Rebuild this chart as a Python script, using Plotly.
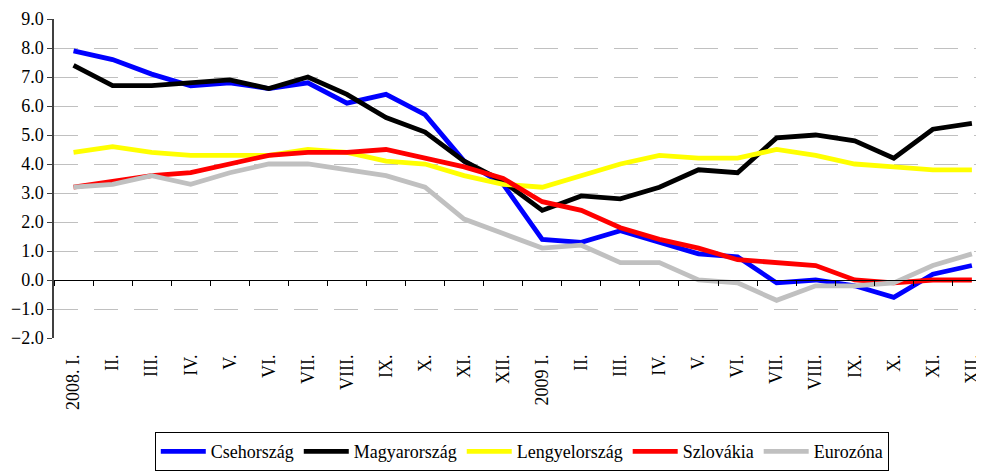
import plotly.graph_objects as go

months = ["2008. I.", "II.", "III.", "IV.", "V.", "VI.", "VII.", "VIII.", "IX.", "X.", "XI.", "XII.",
          "2009 I.", "II.", "III.", "IV.", "V.", "VI.", "VII.", "VIII.", "IX.", "X.", "XI.", "XII."]

cseh = [7.9, 7.6, 7.1, 6.7, 6.8, 6.6, 6.8, 6.1, 6.4, 5.7, 4.1, 3.3,
        1.4, 1.3, 1.7, 1.3, 0.9, 0.8, -0.1, 0.0, -0.2, -0.6, 0.2, 0.5]
magyar = [7.4, 6.7, 6.7, 6.8, 6.9, 6.6, 7.0, 6.4, 5.6, 5.1, 4.1, 3.4,
          2.4, 2.9, 2.8, 3.2, 3.8, 3.7, 4.9, 5.0, 4.8, 4.2, 5.2, 5.4]
lengyel = [4.4, 4.6, 4.4, 4.3, 4.3, 4.3, 4.5, 4.4, 4.1, 4.0, 3.6, 3.3,
           3.2, 3.6, 4.0, 4.3, 4.2, 4.2, 4.5, 4.3, 4.0, 3.9, 3.8, 3.8]
szlovak = [3.2, 3.4, 3.6, 3.7, 4.0, 4.3, 4.4, 4.4, 4.5, 4.2, 3.9, 3.5,
           2.7, 2.4, 1.8, 1.4, 1.1, 0.7, 0.6, 0.5, 0.0, -0.1, 0.0, 0.0]
euro = [3.2, 3.3, 3.6, 3.3, 3.7, 4.0, 4.0, 3.8, 3.6, 3.2, 2.1, 1.6,
        1.1, 1.2, 0.6, 0.6, 0.0, -0.1, -0.7, -0.2, -0.2, -0.1, 0.5, 0.9]

series_names = ["Csehország", "Magyarország", "Lengyelország", "Szlovákia", "Eurozóna"]
series_values = [cseh, magyar, lengyel, szlovak, euro]
series_colors = ["#0000FF", "#000000", "#FFFF00", "#FF0000", "#C0C0C0"]

y_ticks = list(range(-2, 10))

FONT = "Liberation Serif"
x = list(range(len(months)))
xr = [-0.5, 23.31]

fig = go.Figure()
for name, vals, col in zip(series_names, series_values, series_colors):
    fig.add_trace(go.Scatter(x=x, y=vals, mode="lines", name=name,
                             line=dict(color=col, width=4.8)))

# invisible trace to activate the zero-line axis
fig.add_trace(go.Scatter(x=x, y=cseh, xaxis="x2", mode="lines", showlegend=False,
                         line=dict(color="rgba(0,0,0,0)", width=0), hoverinfo="skip"))

fig.update_layout(
    width=976, height=463,
    margin=dict(l=46, r=0, t=11, b=133, autoexpand=False),
    paper_bgcolor="white", plot_bgcolor="white",
    font=dict(family=FONT, color="black"),
    showlegend=True,
    legend=dict(orientation="h", x=0.503, xanchor="center", y=-0.295, yanchor="top",
                bordercolor="black", borderwidth=1, font=dict(family=FONT, size=18),
                itemwidth=45, tracegroupgap=0),
    xaxis=dict(range=xr, tickmode="array", tickvals=x, ticktext=months, tickangle=-90,
               showgrid=False, zeroline=False, showline=False, ticks="",
               tickfont=dict(family=FONT, size=18), ticklabelstandoff=12),
    xaxis2=dict(overlaying="x", anchor="free", position=2/11, range=xr,
                tickmode="array", tickvals=[i - 0.5 for i in range(25)],
                showticklabels=False, ticks="outside", ticklen=5, tickcolor="black",
                showline=True, linecolor="black", linewidth=1,
                showgrid=False, zeroline=False),
    yaxis=dict(range=[-2, 9], tickmode="array", tickvals=y_ticks, tickformat=".1f",
               showgrid=True, gridcolor="#C0C0C0", gridwidth=1, griddash="24px,16px",
               zeroline=False, showline=True, linecolor="#404040", linewidth=1.5,
               ticks="outside", ticklen=5, tickcolor="#404040",
               tickfont=dict(family=FONT, size=18)),
)

fig.write_html("out.html")
